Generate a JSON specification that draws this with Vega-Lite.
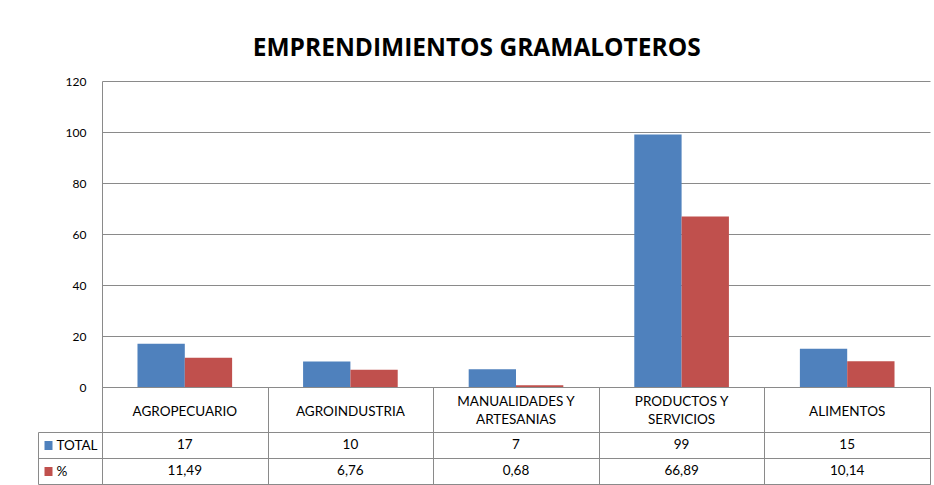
{
  "$schema": "https://vega.github.io/schema/vega-lite/v6.json",
  "padding": {"left": 37, "top": 35, "right": 4, "bottom": 0},
  "background": "white",
  "title": {
    "text": "EMPRENDIMIENTOS GRAMALOTEROS",
    "font": "Open Sans",
    "fontSize": 24.5,
    "fontWeight": "bold",
    "color": "black",
    "anchor": "middle",
    "dx": -7,
    "offset": 14
  },
  "datasets": {
    "d": [
      {"categoria": "AGROPECUARIO", "serie": "TOTAL", "valor": 17},
      {"categoria": "AGROPECUARIO", "serie": "%", "valor": 11.49},
      {"categoria": "AGROINDUSTRIA", "serie": "TOTAL", "valor": 10},
      {"categoria": "AGROINDUSTRIA", "serie": "%", "valor": 6.76},
      {"categoria": "MANUALIDADES Y\nARTESANIAS", "serie": "TOTAL", "valor": 7},
      {"categoria": "MANUALIDADES Y\nARTESANIAS", "serie": "%", "valor": 0.68},
      {"categoria": "PRODUCTOS Y\nSERVICIOS", "serie": "TOTAL", "valor": 99},
      {"categoria": "PRODUCTOS Y\nSERVICIOS", "serie": "%", "valor": 66.89},
      {"categoria": "ALIMENTOS", "serie": "TOTAL", "valor": 15},
      {"categoria": "ALIMENTOS", "serie": "%", "valor": 10.14}
    ]
  },
  "vconcat": [
    {
      "width": 828,
      "height": 306,
      "view": {"stroke": null},
      "data": {"name": "d"},
      "mark": {"type": "bar"},
      "encoding": {
        "x": {
          "field": "categoria",
          "type": "nominal",
          "sort": ["AGROPECUARIO", "AGROINDUSTRIA", "MANUALIDADES Y\nARTESANIAS", "PRODUCTOS Y\nSERVICIOS", "ALIMENTOS"],
          "scale": {"paddingInner": 0, "paddingOuter": 0},
          "axis": null
        },
        "xOffset": {
          "field": "serie",
          "type": "nominal",
          "sort": ["TOTAL", "%"],
          "scale": {"paddingInner": 0, "paddingOuter": 0.75}
        },
        "y": {
          "field": "valor",
          "type": "quantitative",
          "scale": {"domain": [0, 120], "nice": false},
          "axis": {
            "title": null,
            "values": [0, 20, 40, 60, 80, 100, 120],
            "grid": true,
            "gridColor": "#8a8a8a",
            "domain": true,
            "domainColor": "#8a8a8a",
            "ticks": false,
            "labelPadding": 16,
            "labelFont": "Lato",
            "labelFontSize": 12,
            "labelColor": "black"
          }
        },
        "color": {
          "field": "serie",
          "type": "nominal",
          "scale": {"domain": ["TOTAL", "%"], "range": ["#4F81BD", "#C0504D"]},
          "legend": null
        }
      }
    },
    {
      "width": 828,
      "height": 45,
      "data": {"name": "d"},
      "transform": [{"filter": "datum.serie === 'TOTAL'"}],
      "encoding": {
        "x": {
          "field": "categoria",
          "type": "nominal",
          "sort": ["AGROPECUARIO", "AGROINDUSTRIA", "MANUALIDADES Y\nARTESANIAS", "PRODUCTOS Y\nSERVICIOS", "ALIMENTOS"],
          "scale": {"paddingInner": 0, "paddingOuter": 0},
          "axis": {"title": null, "labels": false, "ticks": false, "domain": false, "grid": true, "tickBand": "extent", "gridColor": "#8a8a8a"}
        },
        "text": {"field": "categoria", "type": "nominal"}
      },
      "layer": [
        {
          "transform": [{"filter": "indexof(datum.categoria, '\\n') < 0"}],
          "mark": {"type": "text", "font": "Lato", "fontSize": 13.5, "baseline": "middle", "color": "black", "dy": 2}
        },
        {
          "transform": [{"filter": "indexof(datum.categoria, '\\n') >= 0"}],
          "mark": {"type": "text", "lineBreak": "\n", "font": "Lato", "fontSize": 13.5, "lineHeight": 18, "baseline": "middle", "color": "black", "dy": -8}
        }
      ]
    },
    {
      "width": 828,
      "height": 52,
      "data": {"name": "d"},
      "layer": [
        {
          "mark": {"type": "text", "font": "Lato", "fontSize": 13.5, "baseline": "middle", "color": "black"},
          "encoding": {
            "x": {
              "field": "categoria",
              "type": "nominal",
              "sort": ["AGROPECUARIO", "AGROINDUSTRIA", "MANUALIDADES Y\nARTESANIAS", "PRODUCTOS Y\nSERVICIOS", "ALIMENTOS"],
              "scale": {"paddingInner": 0, "paddingOuter": 0},
              "axis": {"title": null, "labels": false, "ticks": false, "domain": false, "grid": true, "tickBand": "extent", "gridColor": "#8a8a8a"}
            },
            "y": {
              "field": "serie",
              "type": "nominal",
              "sort": ["TOTAL", "%"],
              "scale": {"paddingInner": 0, "paddingOuter": 0},
              "axis": {
                "title": null,
                "orient": "left",
                "offset": 64,
                "domain": true,
                "domainColor": "#8a8a8a",
                "ticks": true,
                "tickBand": "extent",
                "tickSize": -64,
                "tickColor": "#8a8a8a",
                "grid": true,
                "gridColor": "#8a8a8a",
                "labelAlign": "left",
                "labelBaseline": "middle",
                "labelPadding": 46,
                "labelFont": "Lato",
                "labelFontSize": 13.5,
                "labelColor": "black"
              }
            },
            "text": {"field": "valor", "type": "quantitative", "format": ",.2~f"}
          }
        },
        {
          "mark": {"type": "text", "opacity": 0},
          "encoding": {
            "x": {
              "field": "categoria",
              "type": "nominal",
              "sort": ["AGROPECUARIO", "AGROINDUSTRIA", "MANUALIDADES Y\nARTESANIAS", "PRODUCTOS Y\nSERVICIOS", "ALIMENTOS"]
            },
            "y": {
              "field": "serie",
              "type": "nominal",
              "sort": ["TOTAL", "%"],
              "scale": {"paddingInner": 0, "paddingOuter": 0},
              "axis": {
                "title": null,
                "orient": "left",
                "offset": 50,
                "domain": false,
                "labels": false,
                "grid": false,
                "ticks": true,
                "tickSize": 8,
                "tickWidth": 9,
                "tickCap": "butt",
                "tickColor": {"condition": {"test": "datum.value === 'TOTAL'", "value": "#4F81BD"}, "value": "#C0504D"}
              }
            },
            "text": {"field": "valor", "type": "quantitative"}
          }
        }
      ],
      "resolve": {"scale": {"y": "independent"}, "axis": {"y": "independent"}}
    }
  ],
  "spacing": 0,
  "bounds": "flush",
  "config": {
    "view": {"stroke": "#8a8a8a"},
    "locale": {
      "number": {"decimal": ",", "thousands": ".", "grouping": [3], "currency": ["", ""]}
    }
  }
}
